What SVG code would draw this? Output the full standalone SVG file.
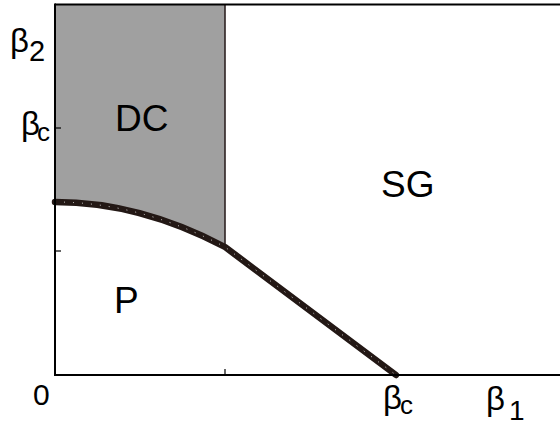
<svg xmlns="http://www.w3.org/2000/svg" width="560" height="423" viewBox="0 0 560 423">
<style>
text{font-family:"Liberation Sans",Arial,sans-serif;fill:#000}
.ax{stroke:#000;stroke-width:2;fill:none}
.lbl{font-size:37px}
.gk{font-size:33px}
.sub{font-size:26px}
</style>
<rect width="560" height="423" fill="#fff"/>
<g id="region-DC">
<path d="M55,4 L225,4 L225,247 Q140,202 55,202 Z" fill="#a0a0a0"/>
<line x1="225" y1="4" x2="225" y2="248" stroke="#2e2222" stroke-width="1.6"/>
</g>
<g id="boundary">
<path d="M55,202 Q140,202 225,247 L396,375" fill="none" stroke="#231815" stroke-width="6.5" stroke-linecap="round"/>
<path d="M55,202 Q140,202 225,247 L396,375" fill="none" stroke="#fff" stroke-width="1" stroke-dasharray="1 8" opacity="0.8"/>
</g>
<g id="axes">
<line class="ax" x1="55" y1="4.5" x2="560" y2="4.5"/>
<line class="ax" x1="55" y1="3.5" x2="55" y2="376"/>
<line class="ax" x1="54" y1="375" x2="560" y2="375"/>
<line x1="55" y1="128" x2="61" y2="128" stroke="#000" stroke-width="1.2"/>
<line x1="55" y1="251" x2="61" y2="251" stroke="#000" stroke-width="1.2"/>
<line x1="225" y1="375" x2="225" y2="369" stroke="#000" stroke-width="1.2"/>
</g>
<g id="labels">
<text class="lbl" x="115" y="131">DC</text>
<text class="lbl" x="381" y="197">SG</text>
<text class="lbl" x="114" y="313">P</text>
<text x="33" y="405" style="font-size:30px">0</text>
<text class="gk" x="10" y="52">β</text><text x="29" y="61" style="font-size:29px">2</text>
<text class="gk" x="21" y="135">β</text><text class="sub" x="37" y="141">c</text>
<text class="gk" x="383" y="409">β</text><text class="sub" x="400" y="414">c</text>
<text class="gk" x="486" y="410">β</text><text x="509" y="420" style="font-size:28px">1</text>
</g>
</svg>
